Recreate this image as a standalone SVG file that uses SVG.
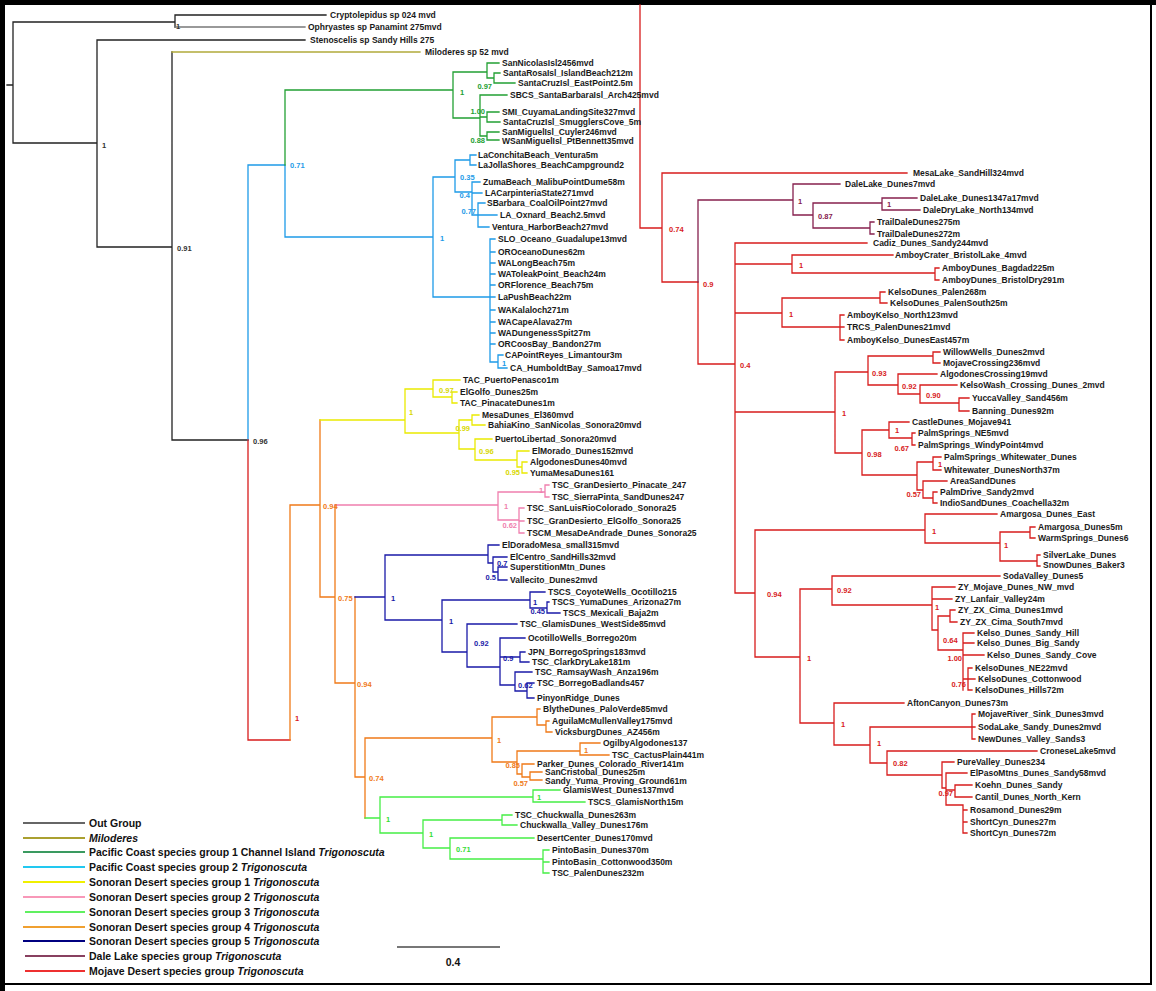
<svg xmlns="http://www.w3.org/2000/svg" width="1156" height="991" viewBox="0 0 1156 991">
<style>
.e{fill:none;stroke-width:1.3;stroke-linecap:square}
.og{stroke:#222}.ol{stroke:#b0aa3a}.g1{stroke:#22a033}.bl{stroke:#1e9be8}.ye{stroke:#eaea00}.pk{stroke:#f07fae}.lg{stroke:#45ee45}.or{stroke:#f07a18}.nv{stroke:#1a1aa8}.dl{stroke:#86204e}.rd{stroke:#d81c1c}
.t{font-family:"Liberation Sans",Arial,sans-serif;font-size:8.5px;font-weight:bold;fill:#1a1a1a}
.s{font-family:"Liberation Sans",Arial,sans-serif;font-size:7.5px;font-weight:bold}
.a{text-anchor:end}
.k{fill:#333}.cb{fill:#1e9be8}.cg{fill:#22a033}.cy{fill:#d8d800}.cp{fill:#f07fae}.co{fill:#f07a18}.cn{fill:#1a1aa8}.cl{fill:#35dd35}.cd{fill:#86204e}.cr{fill:#d81c1c}
.lt{font-family:"Liberation Sans",Arial,sans-serif;font-size:10.5px;font-weight:bold;fill:#111}
.lgl{stroke-width:2;fill:none}
</style>
<rect width="1156" height="991" fill="#fff"/>
<g id="frame">
<rect x="0" y="0" width="1156" height="5" fill="#000"/>
<rect x="0" y="0" width="5" height="991" fill="#000"/>
<line x1="1151" y1="0" x2="1151" y2="984" stroke="#000" stroke-width="2"/>
<line x1="0" y1="984" x2="1152" y2="984" stroke="#000" stroke-width="2"/>
</g>
<g id="connectors">
<path class="e og" d="M7 85H13M13 22V143M13 22H175M175 15V27M175 15H326M13 143H97M97 40V247M97 40H305M97 247H172M172 52V440M172 440H248"/>
<path class="e" stroke="#777" d="M175 27H305"/>
<path class="e ol" d="M172 52H420"/>
<path class="e bl" d="M248 165V440M248 165H285M285 165V237M285 237H433M433 177V297M433 177H455M455 160V192M455 160H470M470 155V165M470 155H476M470 165H476M455 192H472M472 182V215M472 182H480M472 193H482M472 215H478M478 203V227M478 203H485M478 215H497M478 227H489M433 297H490M490 239V362M490 239H495M490 252H495M490 263H495M490 274H495M490 285H495M490 297H495M490 310H495M490 322H495M490 333H495M490 344H495M490 362H498M498 355V368M498 355H503M498 368H507"/>
<path class="e g1" d="M285 90V165M285 90H453M453 72V118M453 72H487M487 63V78M487 63H499M487 78H494M494 73V83M494 73H500M494 83H515M453 118H480M480 95V136M480 95H507M480 117H487M487 112V122M487 112H499M487 122H500M480 136H487M487 132V140M487 132H499M487 140H499"/>
<path class="e rd" d="M248 440V740M248 740H290"/>
<path class="e or" d="M290 505V740M290 505H320M320 420V597M320 597H335M335 505V683M335 683H355M355 597V777M355 777H365M365 738V818M365 738H492M492 717V762M492 717H537M537 709V725M537 709H540M537 725H546M546 721V732M546 721H549M546 732H552M492 762H517M517 751V774M517 751H580M580 743V755M580 743H600M580 755H609M517 774H522M522 764V777M522 764H534M522 777H530M530 772V780M530 772H542M530 780H542"/>
<path class="e ye" d="M320 420H405M405 389V433M405 389H433M433 380V397M433 380H460M433 397H452M452 392V403M452 392H457M452 403H457M405 433H459M459 420V449M459 420H472M472 415V425M472 415H479M472 425H485M459 449H475M475 439V460M475 439H492M475 460H517M517 451V467M517 451H529M517 467H522M522 462V473M522 462H527M522 473H527"/>
<path class="e pk" d="M335 505H498M498 492V520M498 492H545M545 485V497M545 485H549M545 497H549M498 520H519M519 508V533M519 508H524M519 521H524M519 533H524"/>
<path class="e nv" d="M355 597H385M385 555V620M385 555H488M488 545V563M488 545H499M488 563H493M493 557V572M493 557H507M493 572H498M498 567V580M498 567H507M498 580H507M385 620H442M442 600V652M442 600H530M530 592V608M530 592H545M530 608H547M547 602V613M547 602H549M547 613H560M442 652H467M467 624V667M467 624H517M467 667H500M500 638V685M500 638H525M500 657H520M520 652V662M520 652H525M520 662H529M500 685H515M515 672V691M515 672H532M515 691H527M527 683V698M527 683H534M527 698H534"/>
<path class="e lg" d="M365 818H380M380 797V833M380 797H533M533 790V802M533 790H560M533 802H585M380 833H423M423 820V848M423 820H502M502 815V825M502 815H512M502 825H517M423 848H450M450 838V859M450 838H534M450 859H543M543 850V873M543 850H549M543 862H549M543 873H549"/>
<path class="e rd" d="M640 5V228M640 228H662M662 173V282M662 173H907M662 282H698M698 282V364M698 364H735M735 243V593M735 243H867M735 264H792M792 255V273M792 255H893M792 273H935M935 268V280M935 268H939M935 280H939M735 313H782M782 298V327M782 298H880M880 292V303M880 292H885M880 303H887M782 327H840M840 315V340M840 315H844M840 327H844M840 340H844M735 412H835M835 372V453M835 372H868M868 356V385M868 356H933M933 352V363M933 352H940M933 363H940M868 385H898M898 374V394M898 374H937M898 394H920M920 385V403M920 385H957M920 403H959M959 398V411M959 398H969M959 411H969M835 453H862M862 430V475M862 430H889M889 422V438M889 422H909M889 438H912M912 433V445M912 433H915M912 445H915M862 475H917M917 462V490M917 462H933M933 457V470M933 457H941M933 470H941M917 490H923M923 481V498M923 481H947M923 498H933M933 492V503M933 492H937M933 503H937M735 593H755M755 530V657M755 530H925M925 514V543M925 514H997M925 543H1000M1000 532V561M1000 532H1030M1030 527V538M1030 527H1035M1030 538H1035M1000 561H1037M1037 555V566M1037 555H1040M1037 566H1040M755 657H800M800 589V723M800 589H832M832 576V605M832 576H1000M832 605H932M932 587V630M932 587H955M932 599H952M932 630H938M938 616V650M938 616H950M950 610V622M950 610H955M950 622H957M938 650H963M963 633V690M963 633H974M963 643H974M963 655H984M963 679H968M968 668V690M968 668H972M968 679H975M968 690H972M800 723H834M834 703V745M834 703H904M834 745H870M870 727V763M870 727H972M972 714V739M972 714H975M972 727H975M972 739H975M870 763H887M887 751V775M887 751H1037M887 775H942M942 762V788M942 762H954M942 788H946M946 773V805M946 773H967M946 790H955M955 785V797M955 785H972M955 797H972M946 805H963M963 805V833M963 810H967M963 822H967M963 833H967"/>
<path class="e dl" d="M698 200V282M698 200H793M793 184V215M793 184H840M793 215H813M813 203V228M813 203H882M882 198V210M882 198H917M882 210H920M813 228H870M870 222V234M870 222H874M870 234H874"/>
</g>
<g id="outgroup-tips">
<g id="tip-og1"><text class="t" x="330" y="18">Cryptolepidus sp 024 mvd</text></g>
<g id="tip-og2"><text class="t" x="308" y="30">Ophryastes sp Panamint 275mvd</text></g>
<g id="tip-og3"><text class="t" x="310" y="43">Stenoscelis sp Sandy Hills 275</text></g>
<g id="tip-milo"><text class="t" x="425" y="55">Miloderes sp 52 mvd</text></g>
</g>
<g id="pc1-tips">
<g id="tip-g1"><text class="t" x="502" y="66">SanNicolasIsl2456mvd</text></g>
<g id="tip-g2"><text class="t" x="503" y="76">SantaRosaIsl_IslandBeach212m</text></g>
<g id="tip-g3"><text class="t" x="518" y="86">SantaCruzIsl_EastPoint2.5m</text></g>
<g id="tip-g4"><text class="t" x="510" y="98">SBCS_SantaBarbaraIsl_Arch425mvd</text></g>
<g id="tip-g5"><text class="t" x="502" y="115">SMI_CuyamaLandingSite327mvd</text></g>
<g id="tip-g6"><text class="t" x="503" y="125">SantaCruzIsl_SmugglersCove_5m</text></g>
<g id="tip-g7"><text class="t" x="502" y="135">SanMiguelIsl_Cuyler246mvd</text></g>
<g id="tip-g8"><text class="t" x="502" y="144">WSanMiguelIsl_PtBennett35mvd</text></g>
</g>
<g id="pc2-tips">
<g id="tip-b1"><text class="t" x="478" y="158">LaConchitaBeach_Ventura5m</text></g>
<g id="tip-b2"><text class="t" x="478" y="168">LaJollaShores_BeachCampground2</text></g>
<g id="tip-b3"><text class="t" x="483" y="185">ZumaBeach_MalibuPointDume58m</text></g>
<g id="tip-b4"><text class="t" x="485" y="196">LACarpinteriaState271mvd</text></g>
<g id="tip-b5"><text class="t" x="487" y="206">SBarbara_CoalOilPoint27mvd</text></g>
<g id="tip-b6"><text class="t" x="500" y="218">LA_Oxnard_Beach2.5mvd</text></g>
<g id="tip-b7"><text class="t" x="492" y="230">Ventura_HarborBeach27mvd</text></g>
<g id="tip-b8"><text class="t" x="498" y="242">SLO_Oceano_Guadalupe13mvd</text></g>
<g id="tip-b9"><text class="t" x="498" y="255">OROceanoDunes62m</text></g>
<g id="tip-b10"><text class="t" x="498" y="266">WALongBeach75m</text></g>
<g id="tip-b11"><text class="t" x="498" y="277">WAToleakPoint_Beach24m</text></g>
<g id="tip-b12"><text class="t" x="498" y="288">ORFlorence_Beach75m</text></g>
<g id="tip-b13"><text class="t" x="498" y="300">LaPushBeach22m</text></g>
<g id="tip-b14"><text class="t" x="498" y="313">WAKalaloch271m</text></g>
<g id="tip-b15"><text class="t" x="498" y="325">WACapeAlava27m</text></g>
<g id="tip-b16"><text class="t" x="498" y="336">WADungenessSpit27m</text></g>
<g id="tip-b17"><text class="t" x="498" y="347">ORCoosBay_Bandon27m</text></g>
<g id="tip-b18"><text class="t" x="505" y="358">CAPointReyes_Limantour3m</text></g>
<g id="tip-b19"><text class="t" x="510" y="371">CA_HumboldtBay_Samoa17mvd</text></g>
</g>
<g id="sd1-tips">
<g id="tip-y1"><text class="t" x="463" y="383">TAC_PuertoPenasco1m</text></g>
<g id="tip-y2"><text class="t" x="460" y="395">ElGolfo_Dunes25m</text></g>
<g id="tip-y3"><text class="t" x="460" y="406">TAC_PinacateDunes1m</text></g>
<g id="tip-y4"><text class="t" x="482" y="418">MesaDunes_El360mvd</text></g>
<g id="tip-y5"><text class="t" x="488" y="428">BahiaKino_SanNicolas_Sonora20mvd</text></g>
<g id="tip-y6"><text class="t" x="495" y="442">PuertoLibertad_Sonora20mvd</text></g>
<g id="tip-y7"><text class="t" x="532" y="454">ElMorado_Dunes152mvd</text></g>
<g id="tip-y8"><text class="t" x="530" y="465">AlgodonesDunes40mvd</text></g>
<g id="tip-y9"><text class="t" x="530" y="476">YumaMesaDunes161</text></g>
</g>
<g id="sd2-tips">
<g id="tip-p1"><text class="t" x="552" y="488">TSC_GranDesierto_Pinacate_247</text></g>
<g id="tip-p2"><text class="t" x="552" y="500">TSC_SierraPinta_SandDunes247</text></g>
<g id="tip-p3"><text class="t" x="527" y="511">TSC_SanLuisRioColorado_Sonora25</text></g>
<g id="tip-p4"><text class="t" x="527" y="524">TSC_GranDesierto_ElGolfo_Sonora25</text></g>
<g id="tip-p5"><text class="t" x="527" y="536">TSCM_MesaDeAndrade_Dunes_Sonora25</text></g>
</g>
<g id="sd5-tips">
<g id="tip-n1"><text class="t" x="502" y="548">ElDoradoMesa_small315mvd</text></g>
<g id="tip-n2"><text class="t" x="510" y="560">ElCentro_SandHills32mvd</text></g>
<g id="tip-n3"><text class="t" x="510" y="570">SuperstitionMtn_Dunes</text></g>
<g id="tip-n4"><text class="t" x="510" y="583">Vallecito_Dunes2mvd</text></g>
<g id="tip-n5"><text class="t" x="548" y="595">TSCS_CoyoteWells_Ocotillo215</text></g>
<g id="tip-n6"><text class="t" x="552" y="605">TSCS_YumaDunes_Arizona27m</text></g>
<g id="tip-n7"><text class="t" x="563" y="616">TSCS_Mexicali_Baja2m</text></g>
<g id="tip-n8"><text class="t" x="520" y="627">TSC_GlamisDunes_WestSide85mvd</text></g>
<g id="tip-n9"><text class="t" x="528" y="641">OcotilloWells_Borrego20m</text></g>
<g id="tip-n10"><text class="t" x="528" y="655">JPN_BorregoSprings183mvd</text></g>
<g id="tip-n11"><text class="t" x="532" y="665">TSC_ClarkDryLake181m</text></g>
<g id="tip-n12"><text class="t" x="535" y="675">TSC_RamsayWash_Anza196m</text></g>
<g id="tip-n13"><text class="t" x="537" y="686">TSC_BorregoBadlands457</text></g>
<g id="tip-n14"><text class="t" x="537" y="701">PinyonRidge_Dunes</text></g>
</g>
<g id="sd4-tips">
<g id="tip-o1"><text class="t" x="543" y="712">BlytheDunes_PaloVerde85mvd</text></g>
<g id="tip-o2"><text class="t" x="552" y="724">AguilaMcMullenValley175mvd</text></g>
<g id="tip-o3"><text class="t" x="555" y="735">VicksburgDunes_AZ456m</text></g>
<g id="tip-o4"><text class="t" x="603" y="746">OgilbyAlgodones137</text></g>
<g id="tip-o5"><text class="t" x="612" y="758">TSC_CactusPlain441m</text></g>
<g id="tip-o6"><text class="t" x="537" y="767">Parker_Dunes_Colorado_River141m</text></g>
<g id="tip-o7"><text class="t" x="545" y="775">SanCristobal_Dunes25m</text></g>
<g id="tip-o8"><text class="t" x="545" y="784">Sandy_Yuma_Proving_Ground61m</text></g>
</g>
<g id="sd3-tips">
<g id="tip-l1"><text class="t" x="563" y="793">GlamisWest_Dunes137mvd</text></g>
<g id="tip-l2"><text class="t" x="588" y="805">TSCS_GlamisNorth15m</text></g>
<g id="tip-l3"><text class="t" x="515" y="818">TSC_Chuckwalla_Dunes263m</text></g>
<g id="tip-l4"><text class="t" x="520" y="828">Chuckwalla_Valley_Dunes176m</text></g>
<g id="tip-l5"><text class="t" x="537" y="841">DesertCenter_Dunes170mvd</text></g>
<g id="tip-l6"><text class="t" x="552" y="853">PintoBasin_Dunes370m</text></g>
<g id="tip-l7"><text class="t" x="552" y="865">PintoBasin_Cottonwood350m</text></g>
<g id="tip-l8"><text class="t" x="552" y="876">TSC_PalenDunes232m</text></g>
</g>
<g id="mojave-tips">
<g id="tip-r1"><text class="t" x="913" y="176">MesaLake_SandHill324mvd</text></g>
<g id="tip-d1"><text class="t" x="845" y="187">DaleLake_Dunes7mvd</text></g>
<g id="tip-d2"><text class="t" x="920" y="201">DaleLake_Dunes1347a17mvd</text></g>
<g id="tip-d3"><text class="t" x="923" y="213">DaleDryLake_North134mvd</text></g>
<g id="tip-d4"><text class="t" x="877" y="225">TrailDaleDunes275m</text></g>
<g id="tip-d5"><text class="t" x="877" y="237">TrailDaleDunes272m</text></g>
<g id="tip-r2"><text class="t" x="873" y="246">Cadiz_Dunes_Sandy244mvd</text></g>
<g id="tip-r3"><text class="t" x="895" y="258">AmboyCrater_BristolLake_4mvd</text></g>
<g id="tip-r4"><text class="t" x="942" y="271">AmboyDunes_Bagdad225m</text></g>
<g id="tip-r5"><text class="t" x="942" y="283">AmboyDunes_BristolDry291m</text></g>
<g id="tip-r6"><text class="t" x="888" y="295">KelsoDunes_Palen268m</text></g>
<g id="tip-r7"><text class="t" x="890" y="306">KelsoDunes_PalenSouth25m</text></g>
<g id="tip-r8"><text class="t" x="847" y="318">AmboyKelso_North123mvd</text></g>
<g id="tip-r9"><text class="t" x="847" y="330">TRCS_PalenDunes21mvd</text></g>
<g id="tip-r10"><text class="t" x="847" y="343">AmboyKelso_DunesEast457m</text></g>
<g id="tip-r11"><text class="t" x="943" y="355">WillowWells_Dunes2mvd</text></g>
<g id="tip-r12"><text class="t" x="943" y="366">MojaveCrossing236mvd</text></g>
<g id="tip-r13"><text class="t" x="940" y="377">AlgodonesCrossing19mvd</text></g>
<g id="tip-r14"><text class="t" x="960" y="388">KelsoWash_Crossing_Dunes_2mvd</text></g>
<g id="tip-r15"><text class="t" x="972" y="401">YuccaValley_Sand456m</text></g>
<g id="tip-r16"><text class="t" x="972" y="414">Banning_Dunes92m</text></g>
<g id="tip-r17"><text class="t" x="912" y="425">CastleDunes_Mojave941</text></g>
<g id="tip-r18"><text class="t" x="918" y="436">PalmSprings_NE5mvd</text></g>
<g id="tip-r19"><text class="t" x="918" y="448">PalmSprings_WindyPoint4mvd</text></g>
<g id="tip-r20"><text class="t" x="944" y="460">PalmSprings_Whitewater_Dunes</text></g>
<g id="tip-r21"><text class="t" x="944" y="473">Whitewater_DunesNorth37m</text></g>
<g id="tip-r22"><text class="t" x="950" y="484">AreaSandDunes</text></g>
<g id="tip-r23"><text class="t" x="940" y="495">PalmDrive_Sandy2mvd</text></g>
<g id="tip-r24"><text class="t" x="940" y="506">IndioSandDunes_Coachella32m</text></g>
<g id="tip-r25"><text class="t" x="1000" y="517">Amargosa_Dunes_East</text></g>
<g id="tip-r26"><text class="t" x="1038" y="530">Amargosa_Dunes5m</text></g>
<g id="tip-r27"><text class="t" x="1038" y="541">WarmSprings_Dunes6</text></g>
<g id="tip-r28"><text class="t" x="1043" y="558">SilverLake_Dunes</text></g>
<g id="tip-r29"><text class="t" x="1043" y="568">SnowDunes_Baker3</text></g>
<g id="tip-r30"><text class="t" x="1003" y="579">SodaValley_Dunes5</text></g>
<g id="tip-r31"><text class="t" x="958" y="590">ZY_Mojave_Dunes_NW_mvd</text></g>
<g id="tip-r32"><text class="t" x="955" y="602">ZY_Lanfair_Valley24m</text></g>
<g id="tip-r33"><text class="t" x="958" y="613">ZY_ZX_Cima_Dunes1mvd</text></g>
<g id="tip-r34"><text class="t" x="960" y="625">ZY_ZX_Cima_South7mvd</text></g>
<g id="tip-r35"><text class="t" x="977" y="636">Kelso_Dunes_Sandy_Hill</text></g>
<g id="tip-r36"><text class="t" x="977" y="646">Kelso_Dunes_Big_Sandy</text></g>
<g id="tip-r37"><text class="t" x="987" y="658">Kelso_Dunes_Sandy_Cove</text></g>
<g id="tip-r38"><text class="t" x="975" y="671">KelsoDunes_NE22mvd</text></g>
<g id="tip-r39"><text class="t" x="978" y="682">KelsoDunes_Cottonwood</text></g>
<g id="tip-r40"><text class="t" x="975" y="693">KelsoDunes_Hills72m</text></g>
<g id="tip-r41"><text class="t" x="907" y="706">AftonCanyon_Dunes73m</text></g>
<g id="tip-r42"><text class="t" x="978" y="717">MojaveRiver_Sink_Dunes3mvd</text></g>
<g id="tip-r43"><text class="t" x="978" y="730">SodaLake_Sandy_Dunes2mvd</text></g>
<g id="tip-r44"><text class="t" x="978" y="742">NewDunes_Valley_Sands3</text></g>
<g id="tip-r45"><text class="t" x="1040" y="754">CroneseLake5mvd</text></g>
<g id="tip-r46"><text class="t" x="957" y="765">PureValley_Dunes234</text></g>
<g id="tip-r47"><text class="t" x="970" y="776">ElPasoMtns_Dunes_Sandy58mvd</text></g>
<g id="tip-r48"><text class="t" x="975" y="788">Koehn_Dunes_Sandy</text></g>
<g id="tip-r49"><text class="t" x="975" y="800">Cantil_Dunes_North_Kern</text></g>
<g id="tip-r50"><text class="t" x="970" y="813">Rosamond_Dunes29m</text></g>
<g id="tip-r51"><text class="t" x="970" y="825">ShortCyn_Dunes27m</text></g>
<g id="tip-r52"><text class="t" x="970" y="836">ShortCyn_Dunes72m</text></g>
</g>
<g id="support">
<text class="s k" x="176" y="29" font-size="6">1</text>
<text class="s k" x="102" y="148">1</text>
<text class="s k" x="177" y="251">0.91</text>
<text class="s k" x="253" y="444">0.96</text>
<text class="s cb" x="290" y="168">0.71</text>
<text class="s cb" x="440" y="241">1</text>
<text class="s cb" x="460" y="180">0.35</text>
<text class="s cb a" x="470" y="198">0.4</text>
<text class="s cb a" x="476" y="214">0.77</text>
<text class="s cb" x="502" y="366">1</text>
<text class="s cg" x="460" y="95">1</text>
<text class="s cg a" x="492" y="89">0.97</text>
<text class="s cg a" x="485" y="114">1.00</text>
<text class="s cg a" x="485" y="143">0.88</text>
<text class="s cy" x="439" y="393">0.97</text>
<text class="s cy" x="409" y="415">1</text>
<text class="s cy a" x="470" y="431">0.99</text>
<text class="s cy" x="479" y="454">0.96</text>
<text class="s cy a" x="520" y="475">0.95</text>
<text class="s cp" x="504" y="509">1</text>
<text class="s cp" x="539" y="493">1</text>
<text class="s cp a" x="517" y="528">0.62</text>
<text class="s co" x="323" y="509">0.94</text>
<text class="s co" x="338" y="601">0.75</text>
<text class="s co" x="357" y="687">0.94</text>
<text class="s co" x="369" y="781">0.74</text>
<text class="s co" x="497" y="743">1</text>
<text class="s co" x="584" y="753">1</text>
<text class="s co a" x="520" y="768">0.85</text>
<text class="s co a" x="528" y="786">0.57</text>
<text class="s cn" x="391" y="601">1</text>
<text class="s cn" x="497" y="566">0.7</text>
<text class="s cn a" x="496" y="580">0.5</text>
<text class="s cn" x="449" y="624">1</text>
<text class="s cn" x="533" y="605">1</text>
<text class="s cn a" x="545" y="614">0.45</text>
<text class="s cn" x="474" y="646">0.92</text>
<text class="s cn" x="503" y="661">0.9</text>
<text class="s cn" x="518" y="688">0.62</text>
<text class="s cr" x="295" y="721">1</text>
<text class="s cl" x="386" y="822">1</text>
<text class="s cl" x="537" y="800">1</text>
<text class="s cl" x="429" y="837">1</text>
<text class="s cl" x="456" y="852">0.71</text>
<text class="s cr" x="669" y="232">0.74</text>
<text class="s cr" x="703" y="287">0.9</text>
<text class="s cd" x="798" y="204">1</text>
<text class="s cd" x="818" y="219">0.87</text>
<text class="s cd" x="887" y="207">1</text>
<text class="s cr" x="740" y="368">0.4</text>
<text class="s cr" x="799" y="268">1</text>
<text class="s cr" x="789" y="317">1</text>
<text class="s cr" x="842" y="416">1</text>
<text class="s cr" x="872" y="376">0.93</text>
<text class="s cr" x="902" y="389">0.92</text>
<text class="s cr" x="926" y="398">0.90</text>
<text class="s cr" x="867" y="457">0.98</text>
<text class="s cr" x="895" y="433">1</text>
<text class="s cr a" x="909" y="451">0.67</text>
<text class="s cr" x="938" y="467">1</text>
<text class="s cr a" x="921" y="497">0.57</text>
<text class="s cr" x="767" y="597">0.94</text>
<text class="s cr" x="932" y="534">1</text>
<text class="s cr" x="1004" y="548">1</text>
<text class="s cr" x="807" y="661">1</text>
<text class="s cr" x="837" y="593">0.92</text>
<text class="s cr" x="935" y="610">1</text>
<text class="s cr" x="943" y="643">0.64</text>
<text class="s cr a" x="962" y="661">1.00</text>
<text class="s cr a" x="966" y="687">0.76</text>
<text class="s cr" x="841" y="727">1</text>
<text class="s cr" x="877" y="746">1</text>
<text class="s cr" x="893" y="766">0.82</text>
<text class="s cr a" x="953" y="796">0.97</text>
</g>
<g id="legend">
<line class="lgl" x1="23" y1="823" x2="85" y2="823" stroke="#666"/>
<line class="lgl" x1="23" y1="838" x2="85" y2="838" stroke="#aaa030"/>
<line class="lgl" x1="23" y1="852" x2="85" y2="852" stroke="#3a9a60"/>
<line class="lgl" x1="23" y1="867" x2="85" y2="867" stroke="#22c8f0"/>
<line class="lgl" x1="23" y1="882" x2="85" y2="882" stroke="#f0f000"/>
<line class="lgl" x1="23" y1="897" x2="85" y2="897" stroke="#f898b8"/>
<line class="lgl" x1="25" y1="912" x2="85" y2="912" stroke="#60f060"/>
<line class="lgl" x1="23" y1="927" x2="85" y2="927" stroke="#f0a030"/>
<line class="lgl" x1="23" y1="941" x2="85" y2="941" stroke="#000080"/>
<line class="lgl" x1="25" y1="956" x2="85" y2="956" stroke="#884060"/>
<line class="lgl" x1="25" y1="971" x2="85" y2="971" stroke="#ee3030"/>
<text class="lt" x="89" y="827">Out Group</text>
<text class="lt" x="89" y="842" font-style="italic">Miloderes</text>
<text class="lt" x="89" y="856">Pacific Coast species group 1 Channel Island <tspan font-style="italic">Trigonoscuta</tspan></text>
<text class="lt" x="89" y="871">Pacific Coast species group 2 <tspan font-style="italic">Trigonoscuta</tspan></text>
<text class="lt" x="89" y="886">Sonoran Desert species group 1 <tspan font-style="italic">Trigonoscuta</tspan></text>
<text class="lt" x="89" y="901">Sonoran Desert species group 2 <tspan font-style="italic">Trigonoscuta</tspan></text>
<text class="lt" x="89" y="916">Sonoran Desert species group 3 <tspan font-style="italic">Trigonoscuta</tspan></text>
<text class="lt" x="89" y="931">Sonoran Desert species group 4 <tspan font-style="italic">Trigonoscuta</tspan></text>
<text class="lt" x="89" y="945">Sonoran Desert species group 5 <tspan font-style="italic">Trigonoscuta</tspan></text>
<text class="lt" x="89" y="960">Dale Lake species group <tspan font-style="italic">Trigonoscuta</tspan></text>
<text class="lt" x="89" y="975">Mojave Desert species group <tspan font-style="italic">Trigonoscuta</tspan></text>
</g>
<g id="scale-bar">
<line x1="397" y1="947" x2="500" y2="947" stroke="#777" stroke-width="2"/>
<text class="lt" x="453" y="966" text-anchor="middle">0.4</text>
</g>
</svg>
